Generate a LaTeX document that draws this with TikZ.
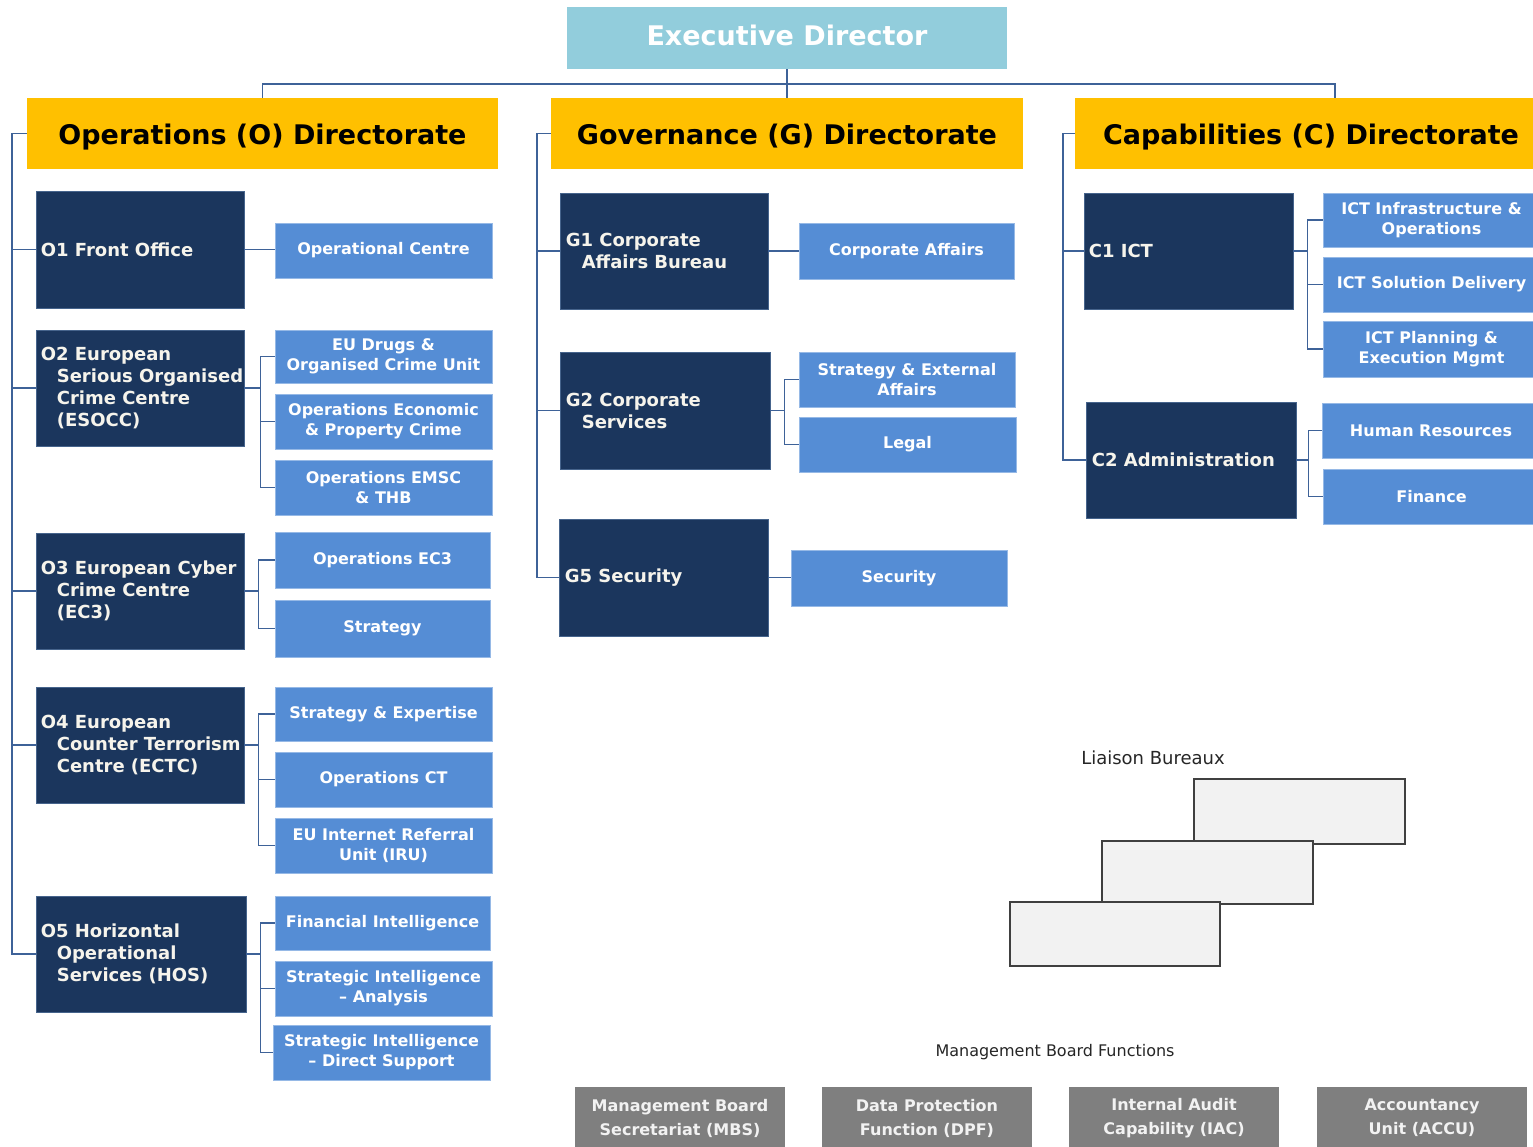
\documentclass[tikz,border=0pt]{standalone}
\usepackage{fontspec}
\setmainfont{DejaVu Sans}
\usetikzlibrary{calc}
\definecolor{navy}{RGB}{27,54,93}
\definecolor{navyedge}{RGB}{70,100,140}
\definecolor{midblue}{RGB}{85,141,213}
\definecolor{midedge}{RGB}{150,185,230}
\definecolor{edblue}{RGB}{146,205,220}
\definecolor{amber}{RGB}{255,192,0}
\definecolor{mgrey}{RGB}{127,127,127}
\definecolor{lgrey}{RGB}{242,242,242}
\definecolor{boxedge}{RGB}{64,64,64}
\definecolor{linecol}{RGB}{62,98,152}
\definecolor{cream}{RGB}{246,244,236}
\tikzset{
  edbox/.style={rectangle, fill=edblue, draw=none, inner sep=0pt, text=white,
    text height=20.5pt, text depth=6pt,
    font=\bfseries\fontsize{27}{32}\selectfont},
  dirbox/.style={rectangle, fill=amber, draw=none, inner sep=0pt, text=black,
    text height=25pt, text depth=3pt,
    minimum height=71pt, font=\bfseries\fontsize{27}{32}\selectfont},
  darkbox/.style={rectangle, fill=navy, draw=navyedge, line width=0.8pt, inner sep=0pt},
  darktext/.style={anchor=west, inner sep=0pt, align=left, text=cream,
    font=\bfseries\fontsize{18}{22}\selectfont},
  bluebox/.style={rectangle, fill=midblue, draw=midedge, line width=0.8pt, inner sep=0pt,
    align=center, text=white, font=\bfseries\fontsize{16}{20}\selectfont},
  greybox/.style={rectangle, fill=mgrey, draw=none, inner sep=0pt, minimum width=210pt,
    minimum height=62pt, align=center, text=lgrey, font=\bfseries\fontsize{16}{24}\selectfont},
  lbbox/.style={rectangle, fill=lgrey, draw=boxedge, line width=1.6pt, inner sep=0pt},
  plainlabel/.style={inner sep=0pt, text=black!85},
  conn/.style={draw=linecol, line width=1.8pt}
}
\begin{document}
\begin{tikzpicture}[x=1pt,y=-1pt]
\clip (0,0) rectangle (1533,1147);
\fill[white] (0,0) rectangle (1533,1147);

% top
\node[edbox, minimum width=440pt, minimum height=62pt] (ed) at (787,38) {Executive Director};
\node[dirbox, minimum width=471pt] (dirO) at (262.5,133.5) {Operations (O) Directorate};
\node[dirbox, minimum width=472pt] (dirG) at (787,133.5) {Governance (G) Directorate};
\node[dirbox, minimum width=472pt] (dirC) at (1311,133.5) {Capabilities (C) Directorate};
\coordinate (bus) at (787,84);
\coordinate (cC) at (1335,98);
\draw[conn] (ed.south) -- (dirG.north);
\draw[conn] (dirO.north) |- (bus) -| (cC);

% Operations dark boxes
\node[darkbox, minimum width=208pt, minimum height=117pt] (o1) at (140,249.5) {};
\node[darkbox, minimum width=208pt, minimum height=116pt] (o2) at (140,388) {};
\node[darkbox, minimum width=208pt, minimum height=116pt] (o3) at (140,591) {};
\node[darkbox, minimum width=208pt, minimum height=116pt] (o4) at (140,745) {};
\node[darkbox, minimum width=210pt, minimum height=116pt] (o5) at (141,954) {};
\node[darktext] (o1t) at ($(o1.west)+(5,0)$) {O1 Front Office};
\node[darktext] (o2t) at ($(o2.west)+(5,0)$) {O2 European\\\hspace*{16pt}Serious Organised\\\hspace*{16pt}Crime Centre\\\hspace*{16pt}(ESOCC)};
\node[darktext] (o3t) at ($(o3.west)+(5,0)$) {O3 European Cyber\\\hspace*{16pt}Crime Centre\\\hspace*{16pt}(EC3)};
\node[darktext] (o4t) at ($(o4.west)+(5,0)$) {O4 European\\\hspace*{16pt}Counter Terrorism\\\hspace*{16pt}Centre (ECTC)};
\node[darktext] (o5t) at ($(o5.west)+(5,0)$) {O5 Horizontal\\\hspace*{16pt}Operational\\\hspace*{16pt}Services (HOS)};

% Operations blue boxes
\node[bluebox, minimum width=217pt, minimum height=55pt] (oc) at (383.5,250.5) {Operational Centre};
\node[bluebox, minimum width=217pt, minimum height=53pt] (eud) at (383.5,356.5) {EU Drugs \&\\Organised Crime Unit};
\node[bluebox, minimum width=217pt, minimum height=55pt] (oep) at (383.5,421.5) {Operations Economic\\\& Property Crime};
\node[bluebox, minimum width=217pt, minimum height=55pt] (emsc) at (383.5,487.5) {Operations EMSC\\\& THB};
\node[bluebox, minimum width=215pt, minimum height=56pt] (ec3) at (382.5,560) {Operations EC3};
\node[bluebox, minimum width=215pt, minimum height=57pt] (strat) at (382.5,628.5) {Strategy};
\node[bluebox, minimum width=217pt, minimum height=54pt] (se) at (383.5,714) {Strategy \& Expertise};
\node[bluebox, minimum width=217pt, minimum height=55pt] (oct) at (383.5,779.5) {Operations CT};
\node[bluebox, minimum width=217pt, minimum height=55pt] (iru) at (383.5,845.5) {EU Internet Referral\\Unit (IRU)};
\node[bluebox, minimum width=215pt, minimum height=54pt] (fi) at (382.5,923) {Financial Intelligence};
\node[bluebox, minimum width=217pt, minimum height=55pt] (sia) at (383.5,988.5) {Strategic Intelligence\\-- Analysis};
\node[bluebox, minimum width=217pt, minimum height=55pt] (sid) at (381.5,1052.5) {Strategic Intelligence\\-- Direct Support};

% Operations connectors
\draw[conn] (dirO.west) -- ++(-15,0) coordinate (otop) |- (o5.west);
\foreach \n in {o1,o2,o3,o4} { \draw[conn] (\n.west) -- (\n.west -| otop); }
\draw[conn] (o1.east) -- (o1.east -| oc.west);
\draw[conn] (o2.east) -- ++(16,0) coordinate (o2b);
\draw[conn] (eud.west) -| (o2b) |- (emsc.west);
\draw[conn] (oep.west) -- (oep.west -| o2b);
\draw[conn] (o3.east) -- ++(14,0) coordinate (o3b);
\draw[conn] (ec3.west) -| (o3b) |- (strat.west);
\draw[conn] (o4.east) -- ++(14,0) coordinate (o4b);
\draw[conn] (se.west) -| (o4b) |- (iru.west);
\draw[conn] (oct.west) -- (oct.west -| o4b);
\draw[conn] (o5.east) -- ++(14,0) coordinate (o5b);
\draw[conn] (fi.west) -| (o5b) |- (sid.west);
\draw[conn] (sia.west) -- (sia.west -| o5b);

% Governance
\node[darkbox, minimum width=208pt, minimum height=116pt] (g1) at (664,251) {};
\node[darkbox, minimum width=210pt, minimum height=117pt] (g2) at (665,410.5) {};
\node[darkbox, minimum width=209pt, minimum height=117pt] (g5) at (663.5,577.5) {};
\node[darktext] (g1t) at ($(g1.west)+(6,0)$) {G1 Corporate\\\hspace*{16pt}Affairs Bureau};
\node[darktext] (g2t) at ($(g2.west)+(6,0)$) {G2 Corporate\\\hspace*{16pt}Services};
\node[darktext] (g5t) at ($(g5.west)+(6,0)$) {G5 Security};
\node[bluebox, minimum width=215pt, minimum height=56pt] (ca) at (906.5,251) {Corporate Affairs};
\node[bluebox, minimum width=216pt, minimum height=55pt] (sea) at (907,379.5) {Strategy \& External\\Affairs};
\node[bluebox, minimum width=217pt, minimum height=55pt] (legal) at (907.5,444.5) {Legal};
\node[bluebox, minimum width=216pt, minimum height=56pt] (sec) at (899,578) {Security};
\draw[conn] (dirG.west) -- ++(-14,0) coordinate (gtop) |- (g5.west);
\foreach \n in {g1,g2} { \draw[conn] (\n.west) -- (\n.west -| gtop); }
\draw[conn] (g1.east) -- (g1.east -| ca.west);
\draw[conn] (g2.east) -- ++(14,0) coordinate (g2b);
\draw[conn] (sea.west) -| (g2b) |- (legal.west);
\draw[conn] (g5.east) -- (g5.east -| sec.west);

% Capabilities
\node[darkbox, minimum width=209pt, minimum height=116pt] (c1) at (1188.5,251) {};
\node[darkbox, minimum width=210pt, minimum height=116pt] (c2) at (1191,460) {};
\node[darktext] (c1t) at ($(c1.west)+(5,0)$) {C1 ICT};
\node[darktext] (c2t) at ($(c2.west)+(6,0)$) {C2 Administration};
\node[bluebox, minimum width=217pt, minimum height=54pt] (icti) at (1431.5,220) {ICT Infrastructure \&\\Operations};
\node[bluebox, minimum width=217pt, minimum height=55pt] (icts) at (1431.5,284.5) {ICT Solution Delivery};
\node[bluebox, minimum width=217pt, minimum height=56pt] (ictp) at (1431.5,349) {ICT Planning \&\\Execution Mgmt};
\node[bluebox, minimum width=218pt, minimum height=55pt] (hr) at (1431,430.5) {Human Resources};
\node[bluebox, minimum width=217pt, minimum height=55pt] (fin) at (1431.5,496.5) {Finance};
\draw[conn] (dirC.west) -- ++(-12,0) coordinate (ctop) |- (c2.west);
\draw[conn] (c1.west) -- (c1.west -| ctop);
\draw[conn] (c1.east) -- ++(14,0) coordinate (c1b);
\draw[conn] (icti.west) -| (c1b) |- (ictp.west);
\draw[conn] (icts.west) -- (icts.west -| c1b);
\draw[conn] (c2.east) -- ++(12,0) coordinate (c2b);
\draw[conn] (hr.west) -| (c2b) |- (fin.west);

% Liaison Bureaux
\node[plainlabel, font=\fontsize{18}{22}\selectfont] (lbl) at (1153,758) {Liaison Bureaux};
\node[lbbox, minimum width=211pt, minimum height=65pt] (lb1) at (1299.5,811.5) {};
\node[lbbox, minimum width=211pt, minimum height=63pt] (lb2) at (1207.5,872.5) {};
\node[lbbox, minimum width=210pt, minimum height=64pt] (lb3) at (1115,934) {};

% Management Board Functions
\node[plainlabel, font=\fontsize{16}{20}\selectfont] (mbf) at (1055,1052) {Management Board Functions};
\node[greybox] (mbs) at (680,1118) {Management Board\\Secretariat (MBS)};
\node[greybox] (dpf) at (927,1118) {Data Protection\\Function (DPF)};
\node[greybox] (iac) at (1174,1118) {Internal Audit\\Capability (IAC)};
\node[greybox] (accu) at (1422,1118) {Accountancy\\Unit (ACCU)};
\end{tikzpicture}
\end{document}
